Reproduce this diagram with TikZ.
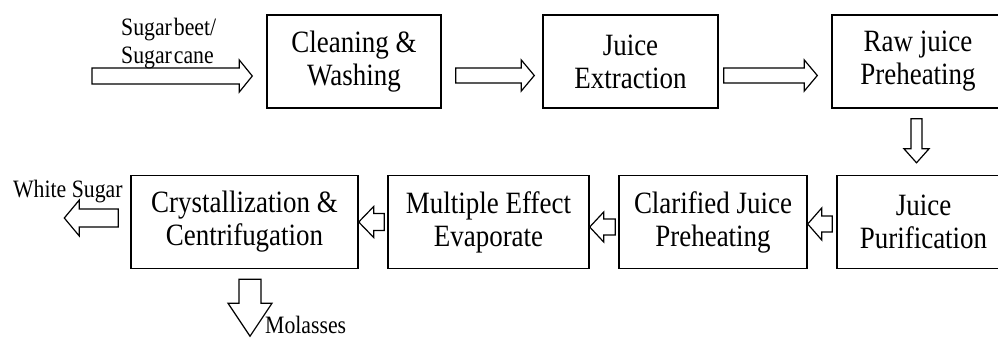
\documentclass[tikz,border=0pt]{standalone}
\usepackage{fontspec}
\setmainfont{Liberation Serif}
\newfontfamily\bxfont[FakeStretch=0.87]{Liberation Serif}
\usetikzlibrary{calc}
\tikzset{
 box/.style={draw, line width=1.4pt, minimum height=93pt, inner sep=0pt, align=center, font=\bxfont\fontsize{31}{33}\selectfont},
 lbl/.style={inner sep=0pt, font=\bxfont\fontsize{25}{28}\selectfont},
 blk/.style={draw, line width=1.2pt, line join=miter, fill=white}
}
% #1 tail, #2 tip, #3 half shaft width, #4 half head width, #5 head length (pt)
\newcommand\barrow[5]{%
 \coordinate (bS) at #1;
 \coordinate (bT) at #2;
 \coordinate (bH) at ($(bT)!#5pt!(bS)$);
 \draw[blk] ($(bS)!#3pt!90:(bT)$) -- ($(bH)!#3pt!90:(bT)$) -- ($(bH)!#4pt!90:(bT)$) -- (bT)
   -- ($(bH)!#4pt!-90:(bT)$) -- ($(bH)!#3pt!-90:(bT)$) -- ($(bS)!#3pt!-90:(bT)$) -- cycle;}
\begin{document}
\begin{tikzpicture}[x=1pt,y=-1pt]
\clip (0,0) rectangle (998,338);
\fill[white] (0,0) rectangle (998,338);
\node[box, minimum width=174pt] (clean) at (354,61.5) {Cleaning \&\\Washing};
\node[box, minimum width=175pt] (extr) at (630.5,61.5) {Juice\\Extraction};
\node[box, minimum width=172pt] (raw) at (918,61.5) {Raw juice\\Preheating};
\node[box, minimum width=173pt] (pur) at (923.5,222) {Juice\\Purification};
\node[box, minimum width=188pt] (clar) at (713,222) {Clarified Juice\\Preheating};
\node[box, minimum width=201pt] (mult) at (488.5,222) {Multiple Effect\\Evaporate};
\node[box, minimum width=227pt] (crys) at (244.5,222) {Crystallization \&\\Centrifugation};
\coordinate (src) at (92,76);
\barrow{(src)}{($(clean.west)+(-14,14.5)$)}{8}{16}{13}
\barrow{($(clean.east)+(14,14)$)}{($(extr.west)+(-8,14)$)}{7.5}{15.5}{13}
\barrow{($(extr.east)+(5,14)$)}{($(raw.west)+(-14,14)$)}{7.5}{15.5}{13}
\barrow{($(raw.south)+(-1.5,10)$)}{($(pur.north)+(-7,-12)$)}{5.5}{12.5}{14}
\barrow{($(pur.west)+(-4,2)$)}{($(clar.east)+(0,2)$)}{8}{16}{14}
\barrow{($(clar.west)+(-3,5)$)}{($(mult.east)+(0,5)$)}{8}{15}{14}
\barrow{($(mult.west)+(-3,0)$)}{(crys.east)}{8.5}{15.5}{15}
\coordinate (wsend) at ($(crys.west)+(-66,-4)$);
\barrow{($(crys.west)+(-12,-4)$)}{(wsend)}{9}{18}{15}
\coordinate (molend) at ($(crys.south)+(5.5,67)$);
\barrow{($(crys.south)+(5.5,10)$)}{(molend)}{11}{22}{33}
\node[lbl, anchor=base west] (sb) at (121,35) {Sugar\hspace{2pt}beet/};
\node[lbl, anchor=base west] (sc) at (121,63) {Sugar\hspace{2pt}cane};
\node[lbl, anchor=base west] (wsug) at (13,197) {White Sugar};
\node[lbl, anchor=base west] (mol) at (265,333) {Molasses};
\end{tikzpicture}
\end{document}
